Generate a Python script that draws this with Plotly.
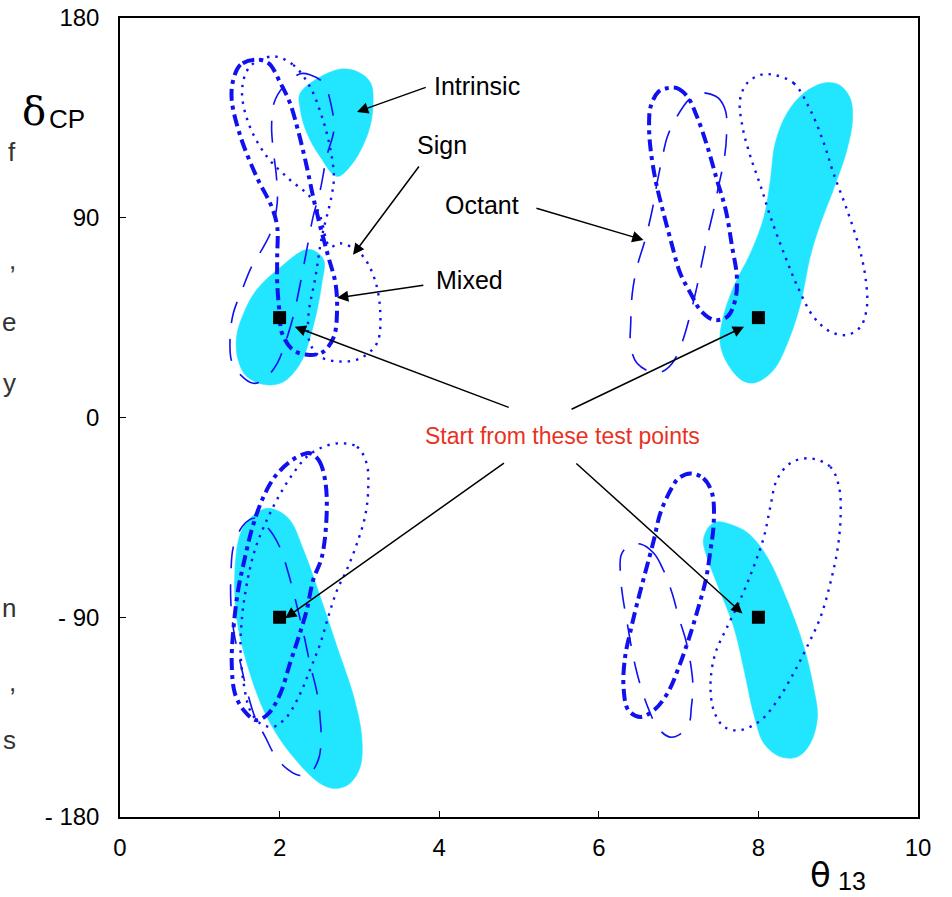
import plotly.graph_objects as go

# ---------------- data (theta13, deltaCP) ----------------
# Cyan "true" regions
cyan_a_x = [2.26, 2.72, 2.97, 3.14, 3.17, 3.11, 2.92, 2.72, 2.51, 2.34, 2.26]
cyan_a_y = [146.3, 156.7, 155.9, 150.8, 140.0, 128.3, 114.8, 108.6, 117.4, 128.3, 138.6]
cyan_b_x = [2.36, 2.55, 2.53, 2.42, 2.26, 2.05, 1.84, 1.59, 1.48, 1.46, 1.55, 1.71, 1.97]
cyan_b_y = [75.8, 71.3, 60.5, 40.9, 24.4, 16.1, 14.7, 18.4, 25.9, 36.4, 47.0, 57.5, 66.5]
cyan_c_x = [8.82, 9.01, 9.15, 9.18, 9.11, 8.94, 8.78, 8.65, 8.53, 8.38, 8.19, 7.96, 7.80,
            7.61, 7.52, 7.55, 7.69, 7.90, 8.07, 8.15, 8.21, 8.36, 8.57]
cyan_c_y = [150.7, 149.9, 143.9, 134.1, 120.6, 102.6, 87.6, 72.5, 51.5, 34.9, 21.4, 15.7, 16.6,
            24.4, 33.5, 44.0, 59.0, 74.0, 90.5, 107.1, 123.6, 137.2, 146.2]
cyan_d_x = [1.86, 2.11, 2.30, 2.51, 2.72, 2.93, 3.03, 3.01, 2.88, 2.70, 2.51, 2.17, 1.84,
            1.59, 1.46, 1.44, 1.51, 1.65]
cyan_d_y = [-40.9, -45.4, -59.7, -80.8, -103.3, -125.9, -143.9, -157.4, -164.9, -167.2, -164.9,
            -152.9, -134.9, -110.8, -89.8, -68.8, -52.2, -44.7]
cyan_e_x = [7.48, 7.73, 7.90, 8.11, 8.36, 8.57, 8.69, 8.74, 8.65, 8.49, 8.28, 8.07, 7.94,
            7.82, 7.69, 7.48, 7.34, 7.31, 7.38]
cyan_e_y = [-47.0, -49.2, -53.0, -62.8, -82.3, -103.3, -121.4, -134.9, -146.9, -152.9, -152.9,
            -146.9, -133.4, -113.8, -94.3, -74.8, -61.2, -55.2, -49.2]

# "Mixed" (thick dash-dot) contours
mixed_tl_x = [1.69, 1.51, 1.42, 1.40, 1.51, 1.71, 1.90, 1.97, 1.97, 1.97, 2.00, 2.03, 2.17,
              2.38, 2.55, 2.68, 2.72, 2.70, 2.61, 2.51, 2.42, 2.34, 2.24, 2.13, 2.01, 1.86]
mixed_tl_y = [161.2, 158.9, 152.2, 143.2, 126.6, 108.6, 95.0, 86.0, 72.5, 60.5, 47.0, 38.0, 30.4,
              28.2, 29.7, 36.4, 48.5, 60.5, 72.5, 86.0, 99.5, 113.1, 128.1, 141.7, 150.7, 159.7]
mixed_tr_x = [6.86, 6.98, 7.11, 7.23, 7.36, 7.48, 7.59, 7.67, 7.73, 7.71, 7.61, 7.44, 7.27,
              7.15, 7.02, 6.90, 6.79, 6.71, 6.65, 6.63, 6.65, 6.75]
mixed_tr_y = [148.4, 148.4, 144.6, 135.6, 122.1, 107.1, 93.6, 77.0, 63.5, 53.0, 45.4, 44.0, 48.5,
              56.0, 65.0, 80.0, 95.0, 107.1, 120.6, 131.1, 140.1, 146.9]
mixed_bl_x = [2.38, 2.49, 2.57, 2.59, 2.53, 2.42, 2.34, 2.24, 2.13, 2.01, 1.86, 1.71, 1.55,
              1.44, 1.40, 1.42, 1.48, 1.55, 1.65, 1.78, 1.94, 2.13, 2.30]
mixed_bl_y = [-16.1, -19.2, -28.2, -43.2, -62.8, -73.3, -86.8, -98.8, -110.8, -124.3, -133.4,
              -136.4, -131.9, -124.3, -110.8, -95.8, -77.8, -65.7, -50.7, -37.2, -26.7, -19.9, -16.5]
mixed_br_x = [7.15, 7.31, 7.42, 7.44, 7.40, 7.34, 7.25, 7.15, 7.02, 6.86, 6.69, 6.52, 6.37,
              6.31, 6.33, 6.40, 6.48, 6.58, 6.69, 6.77, 6.90, 7.00]
mixed_br_y = [-25.2, -27.4, -34.2, -47.7, -59.7, -73.3, -85.3, -97.3, -110.8, -124.3, -131.9,
              -134.9, -131.9, -121.4, -107.8, -95.8, -83.8, -70.2, -55.2, -43.2, -32.7, -27.4]

# "Sign" (dotted) contours
sign_tl_x = [1.92, 2.17, 2.38, 2.53, 2.63, 2.68, 2.65, 2.53, 2.45, 2.36, 2.38, 2.51, 2.76,
             3.01, 3.22, 3.26, 3.18, 3.01, 2.76, 2.63, 2.51, 2.38, 2.13, 1.84, 1.61, 1.53, 1.63]
sign_tl_y = [162.7, 158.9, 149.1, 135.6, 122.1, 108.6, 99.5, 81.5, 63.5, 45.4, 33.5, 27.4, 25.2,
             26.7, 33.5, 48.5, 63.5, 74.0, 78.5, 77.0, 90.5, 99.5, 107.1, 117.6, 132.6, 147.7, 158.2]
sign_tr_x = [8.19, 8.44, 8.65, 8.82, 8.94, 9.11, 9.26, 9.34, 9.36, 9.28, 9.11, 8.90, 8.69,
             8.49, 8.32, 8.15, 8.03, 7.90, 7.80, 7.77, 7.86, 8.03]
sign_tr_y = [154.4, 150.7, 138.6, 123.6, 110.1, 93.6, 77.0, 63.5, 50.0, 40.9, 37.2, 38.7, 45.4,
             59.0, 74.0, 90.5, 104.1, 117.6, 131.1, 143.2, 150.7, 154.4]
sign_bl_x = [2.76, 2.97, 3.09, 3.11, 3.07, 2.97, 2.84, 2.72, 2.61, 2.51, 2.38, 2.26, 2.09,
             1.92, 1.76, 1.63, 1.55, 1.51, 1.53, 1.59, 1.69, 1.84, 2.01, 2.17, 2.34, 2.55]
sign_bl_y = [-11.6, -13.2, -20.6, -32.7, -44.7, -56.7, -68.8, -77.8, -89.8, -101.8, -113.8,
             -124.3, -134.9, -139.4, -137.9, -131.9, -119.8, -104.8, -89.8, -74.8, -59.7, -46.2,
             -34.2, -25.2, -17.7, -13.2]
sign_br_x = [8.65, 8.90, 9.01, 9.03, 8.99, 8.90, 8.78, 8.61, 8.44, 8.24, 8.03, 7.77, 7.57,
             7.44, 7.40, 7.46, 7.61, 7.77, 7.94, 8.07, 8.15, 8.23, 8.40]
sign_br_y = [-18.4, -22.2, -31.2, -44.7, -59.7, -74.8, -89.8, -103.3, -115.3, -127.4, -136.4,
             -140.9, -139.4, -131.9, -119.8, -106.3, -94.3, -82.3, -67.3, -53.7, -40.2, -28.2, -20.6]

# "Octant" (long dashed) contours
oct_tl_x = [2.05, 2.26, 2.38, 2.55, 2.65, 2.68, 2.59, 2.51, 2.42, 2.34, 2.26, 2.17, 2.07,
            1.97, 1.80, 1.67, 1.51, 1.40, 1.38, 1.42, 1.53, 1.65, 1.80, 1.90, 1.97, 1.96,
            1.92, 1.90, 1.93]
oct_tl_y = [149.1, 154.9, 154.4, 150.7, 140.1, 129.6, 117.6, 102.6, 90.5, 75.5, 60.5, 45.4,
            33.5, 24.4, 16.9, 15.4, 19.2, 25.2, 36.4, 47.0, 57.5, 68.0, 77.0, 84.5, 96.6, 108.6,
            120.6, 131.1, 141.7]
oct_tr_x = [7.40, 7.50, 7.59, 7.60, 7.57, 7.50, 7.44, 7.36, 7.29, 7.23, 7.15, 7.04, 6.92,
            6.79, 6.65, 6.48, 6.40, 6.40, 6.42, 6.48, 6.58, 6.67, 6.73, 6.79, 6.86, 6.98,
            7.13, 7.27]
oct_tr_y = [145.7, 143.9, 137.9, 126.6, 116.1, 104.1, 93.6, 81.5, 69.5, 59.0, 47.0, 33.5, 24.4,
            20.6, 20.6, 24.4, 31.9, 42.5, 56.0, 68.0, 80.0, 93.6, 105.6, 116.1, 126.6, 135.6,
            143.2, 146.2]
oct_bl_x = [1.69, 1.86, 2.01, 2.11, 2.22, 2.30, 2.38, 2.47, 2.51, 2.52, 2.49, 2.38, 2.24,
            2.09, 1.94, 1.82, 1.69, 1.59, 1.51, 1.43, 1.39, 1.39, 1.42, 1.53, 1.63]
oct_bl_y = [-45.4, -50.0, -59.0, -70.2, -85.3, -97.3, -110.8, -124.3, -136.4, -145.4, -153.7,
            -160.4, -161.2, -158.2, -152.2, -143.9, -134.9, -122.9, -110.8, -97.3, -83.8, -70.2,
            -58.3, -49.2, -45.9]
oct_br_x = [6.52, 6.69, 6.81, 6.92, 7.00, 7.09, 7.15, 7.18, 7.16, 7.13, 7.00, 6.88, 6.73,
            6.63, 6.54, 6.46, 6.40, 6.35, 6.30, 6.27, 6.28, 6.37]
oct_br_y = [-57.0, -61.2, -68.8, -79.3, -89.8, -100.3, -110.8, -121.4, -130.4, -137.9, -143.1,
            -143.9, -139.4, -131.9, -122.9, -112.4, -101.8, -91.3, -80.8, -70.2, -62.0, -57.9]

# Test points
test_x = [2, 8, 2, 8]
test_y = [45, 45, -90, -90]

# Labels with arrows
label_names = ["Intrinsic", "Sign", "Octant", "Mixed"]
label_x = [3.91, 3.70, 4.05, 3.93]
label_y = [149.5, 122.9, 95.8, 62.0]
arrow_tail_x = [3.85, 3.76, 5.20, 3.82]
arrow_tail_y = [149.0, 113.8, 94.5, 59.7]
arrow_head_x = [2.97, 2.92, 6.56, 2.72]
arrow_head_y = [137.7, 73.3, 80.0, 53.9]

start_text = "Start from these test points"
start_tail_x = [4.89, 5.64, 4.83, 5.70]
start_tail_y = [4.3, 3.4, -20.1, -20.1]
start_head_x = [2.19, 7.82, 2.07, 7.80]
start_head_y = [40.9, 40.9, -90.5, -88.3]

x_ticks = [0, 2, 4, 6, 8, 10]
y_ticks = [-180, -90, 0, 90, 180]
y_tick_text = ["- 180", "- 90", "0", "90", "180"]

# ---------------- figure ----------------
CYAN = "#22E6FF"
BLUE = "#1010F0"
FONT = "Arial, Liberation Sans"
fig = go.Figure()

def closed(xs, ys):
    return list(xs) + [xs[0]], list(ys) + [ys[0]]

for xs, ys in [(cyan_a_x, cyan_a_y), (cyan_b_x, cyan_b_y), (cyan_c_x, cyan_c_y),
               (cyan_d_x, cyan_d_y), (cyan_e_x, cyan_e_y)]:
    cx, cy = closed(xs, ys)
    fig.add_trace(go.Scatter(x=cx, y=cy, mode="lines", fill="toself", fillcolor=CYAN,
                             line=dict(color=CYAN, width=0.5, shape="spline", smoothing=1.0),
                             hoverinfo="skip", showlegend=False))

for xs, ys in [(oct_tl_x, oct_tl_y), (oct_tr_x, oct_tr_y), (oct_bl_x, oct_bl_y), (oct_br_x, oct_br_y)]:
    cx, cy = closed(xs, ys)
    fig.add_trace(go.Scatter(x=cx, y=cy, mode="lines",
                             line=dict(color=BLUE, width=1.6, dash="22px,16px", shape="spline"),
                             hoverinfo="skip", showlegend=False))

for xs, ys in [(sign_tl_x, sign_tl_y), (sign_tr_x, sign_tr_y), (sign_bl_x, sign_bl_y), (sign_br_x, sign_br_y)]:
    cx, cy = closed(xs, ys)
    fig.add_trace(go.Scatter(x=cx, y=cy, mode="lines",
                             line=dict(color=BLUE, width=2.4, dash="2.4px,6px", shape="spline"),
                             hoverinfo="skip", showlegend=False))

for xs, ys in [(mixed_tl_x, mixed_tl_y), (mixed_tr_x, mixed_tr_y), (mixed_bl_x, mixed_bl_y), (mixed_br_x, mixed_br_y)]:
    cx, cy = closed(xs, ys)
    fig.add_trace(go.Scatter(x=cx, y=cy, mode="lines",
                             line=dict(color=BLUE, width=4, dash="12px,5px,4px,5px", shape="spline"),
                             hoverinfo="skip", showlegend=False))

fig.add_trace(go.Scatter(x=test_x, y=test_y, mode="markers",
                         marker=dict(symbol="square", size=13, color="black"),
                         hoverinfo="skip", showlegend=False))

annotations = []
for name, tx, ty, ax_, ay_, hx, hy in zip(label_names, label_x, label_y, arrow_tail_x,
                                         arrow_tail_y, arrow_head_x, arrow_head_y):
    annotations.append(dict(x=hx, y=hy, ax=ax_, ay=ay_, xref="x", yref="y", axref="x", ayref="y",
                            text="", showarrow=True, arrowhead=2, arrowsize=1.5, arrowwidth=1.5,
                            arrowcolor="black"))
    annotations.append(dict(x=tx, y=ty, xref="x", yref="y", text=name, showarrow=False,
                            xanchor="left", yanchor="middle",
                            font=dict(family=FONT, size=25, color="black")))

for ax_, ay_, hx, hy in zip(start_tail_x, start_tail_y, start_head_x, start_head_y):
    annotations.append(dict(x=hx, y=hy, ax=ax_, ay=ay_, xref="x", yref="y", axref="x", ayref="y",
                            text="", showarrow=True, arrowhead=2, arrowsize=1.5, arrowwidth=1.5,
                            arrowcolor="black"))
annotations.append(dict(x=5.55, y=-8.3, xref="x", yref="y", text=start_text, showarrow=False,
                        xanchor="center", yanchor="middle",
                        font=dict(family=FONT, size=23, color="#E8321E")))

# axis titles
annotations.append(dict(x=-0.125, y=0.883, xref="paper", yref="paper", text="δ", showarrow=False,
                        xanchor="left", yanchor="middle",
                        font=dict(family="DejaVu Serif", size=40, color="black")))
annotations.append(dict(x=-0.092, y=0.873, xref="paper", yref="paper", text="CP", showarrow=False,
                        xanchor="left", yanchor="middle",
                        font=dict(family=FONT, size=26, color="black")))
annotations.append(dict(x=0.878, y=-0.072, xref="paper", yref="paper", text="θ", showarrow=False,
                        xanchor="center", yanchor="middle",
                        font=dict(family="DejaVu Sans", size=34, color="black")))
annotations.append(dict(x=0.897, y=-0.08, xref="paper", yref="paper", text="13", showarrow=False,
                        xanchor="left", yanchor="middle",
                        font=dict(family=FONT, size=25, color="black")))

# clipped page text at the left edge
edge_letters = ["f", ",", "e", "y", "n", ",", "s"]
edge_pos = [152, 260, 322, 383, 608, 682, 740]
for ch, py in zip(edge_letters, edge_pos):
    annotations.append(dict(x=-0.128, y=(817 - py) / 799, xref="paper", yref="paper", text=ch,
                            showarrow=False, xanchor="right", yanchor="middle",
                            font=dict(family=FONT, size=26, color="#333333")))

fig.update_layout(
    width=952, height=897,
    margin=dict(l=120, r=34, t=18, b=80, autoexpand=False),
    paper_bgcolor="white", plot_bgcolor="white",
    annotations=annotations,
    xaxis=dict(range=[0, 10], tickvals=x_ticks, ticks="inside", ticklen=6, tickcolor="black",
               showline=True, linecolor="black", linewidth=1.5, mirror=True, showgrid=False,
               zeroline=False, ticklabelstandoff=8, automargin=False,
               tickfont=dict(family=FONT, size=24, color="black")),
    yaxis=dict(range=[-180, 180], tickvals=y_ticks, ticktext=y_tick_text, ticks="inside",
               ticklen=6, tickcolor="black", showline=True, linecolor="black", linewidth=1.5,
               mirror=True, showgrid=False, zeroline=False, ticklabelstandoff=14, automargin=False,
               tickfont=dict(family=FONT, size=24, color="black")),
)

fig.write_html("out.html")
